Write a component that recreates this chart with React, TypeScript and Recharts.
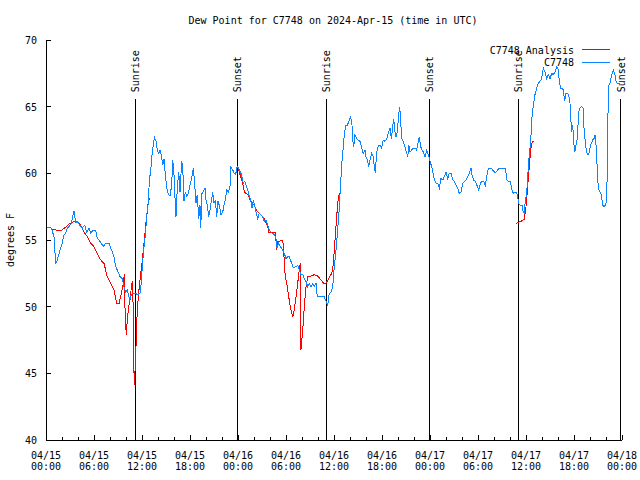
import { LineChart, Line, XAxis, YAxis, ReferenceLine } from "recharts"

const FONT = "'DejaVu Sans Mono', monospace"
const RED = "#ff0000"
const BLUE = "#0a84ff"

// hours after 2024-04-15 00:00 UTC, dew point (F)
const observed: [number, number][] = [
  [0, 55.9], [0.25, 55.95], [0.66, 55.9], [1.0, 55.25], [1.21, 53.2], [1.41, 53.5], [1.75, 54.25], [2.04, 54.8],
  [2.25, 55.4], [2.46, 55.5], [2.66, 55.9], [2.87, 56.0], [3.16, 56.25], [3.5, 57.2], [3.71, 56.3], [3.91, 56.4],
  [4.25, 56.1], [4.54, 55.9], [4.84, 56.1], [5.09, 55.6], [5.37, 55.9], [5.59, 55.5], [5.91, 55.75], [6.21, 55.75],
  [6.41, 55.1], [6.62, 55.0], [6.91, 54.75], [7.16, 54.5], [7.46, 54.75], [7.87, 54.75], [8.09, 54.4], [8.29, 54.1],
  [8.5, 53.75], [8.71, 53.0], [8.91, 52.75], [9.25, 52.25], [9.54, 52.1], [9.75, 51.5], [9.96, 51.1], [10.16, 51.25],
  [10.46, 50.5], [10.66, 50.9], [10.91, 51.0], [11.21, 51.0], [11.41, 50.9], [11.75, 51.0], [11.91, 51.75], [12.04, 53.0],
  [12.25, 54.5], [12.46, 55.6], [12.59, 56.9], [12.79, 57.75], [12.91, 59.4], [13.12, 60.4], [13.25, 61.4], [13.41, 62.1],
  [13.54, 62.7], [13.75, 62.4], [13.91, 61.75], [14.09, 61.5], [14.25, 61.75], [14.41, 61.4], [14.59, 60.6], [14.75, 61.1],
  [14.91, 59.9], [15.09, 58.9], [15.29, 58.4], [15.5, 58.3], [15.71, 59.1], [15.84, 61.0], [16.0, 59.9], [16.12, 58.25],
  [16.25, 56.75], [16.41, 58.9], [16.59, 60.1], [16.75, 58.6], [16.96, 60.9], [17.09, 60.5], [17.25, 57.9], [17.41, 58.6],
  [17.59, 58.3], [17.79, 58.5], [18.0, 59.1], [18.21, 59.6], [18.41, 60.4], [18.54, 59.6], [18.75, 57.75], [18.91, 58.4],
  [19.09, 56.6], [19.25, 57.6], [19.34, 55.9], [19.5, 58.5], [19.66, 58.6], [19.87, 58.9], [20.0, 58.0], [20.16, 57.6],
  [20.34, 56.75], [20.5, 57.25], [20.66, 57.9], [20.84, 58.6], [21.0, 57.75], [21.16, 58.0], [21.34, 56.75], [21.5, 57.9],
  [21.66, 57.6], [21.87, 56.9], [22.09, 57.1], [22.25, 57.6], [22.41, 58.0], [22.59, 58.75], [22.79, 58.6], [23.0, 59.0],
  [23.12, 60.5], [23.34, 60.25], [23.54, 60.0], [23.71, 59.9], [23.84, 60.4], [24.0, 60.5], [24.16, 60.25], [24.37, 60.0],
  [24.54, 59.6], [24.66, 59.25], [24.84, 59.4], [25.0, 59.1], [25.21, 58.75], [25.41, 58.25], [25.59, 58.0], [25.75, 57.4],
  [25.91, 58.0], [26.09, 57.6], [26.25, 57.1], [26.46, 56.6], [26.66, 57.0], [26.87, 56.9], [27.09, 56.75], [27.29, 56.4],
  [27.5, 56.5], [27.71, 56.1], [27.91, 55.75], [28.12, 55.6], [28.34, 55.5], [28.54, 55.4], [28.75, 55.1], [28.87, 54.4],
  [29.09, 54.75], [29.29, 54.5], [29.59, 54.25], [29.79, 54.0], [30.0, 53.6], [30.21, 53.75], [30.41, 53.75], [30.62, 53.4],
  [30.91, 52.9], [31.25, 53.0], [31.46, 53.1], [31.66, 52.75], [31.87, 52.4], [32.09, 52.4], [32.29, 52.1], [32.5, 51.9],
  [32.71, 51.5], [32.91, 51.75], [33.12, 51.5], [33.34, 51.75], [33.54, 51.5], [33.75, 51.75], [33.91, 50.75], [34.37, 50.75],
  [34.79, 50.75], [35.0, 50.4], [35.21, 50.1], [35.41, 51.0], [35.62, 51.1], [35.84, 51.5], [36.04, 53.0], [36.25, 54.25],
  [36.46, 55.75], [36.66, 57.4], [36.75, 58.4], [36.96, 60.6], [37.16, 62.0], [37.29, 62.9], [37.46, 63.6], [37.66, 63.6],
  [37.87, 63.9], [38.09, 64.25], [38.25, 63.6], [38.34, 62.5], [38.46, 62.0], [38.62, 62.9], [38.84, 62.6], [39.04, 62.5],
  [39.25, 62.4], [39.46, 61.9], [39.66, 61.5], [39.87, 61.75], [40.0, 61.25], [40.16, 61.0], [40.34, 60.5], [40.5, 61.0],
  [40.71, 61.5], [40.91, 61.25], [41.04, 60.5], [41.16, 60.0], [41.34, 61.6], [41.54, 62.1], [41.75, 62.1], [41.96, 61.9],
  [42.16, 62.5], [42.37, 62.4], [42.59, 62.6], [42.79, 63.0], [43.0, 63.4], [43.16, 62.6], [43.34, 63.5], [43.46, 64.1],
  [43.62, 63.1], [43.75, 62.75], [43.91, 63.1], [44.09, 64.4], [44.21, 65.0], [44.34, 63.9], [44.46, 62.6], [44.66, 62.4],
  [44.87, 62.0], [45.09, 61.5], [45.21, 61.25], [45.37, 62.1], [45.5, 61.6], [45.71, 61.75], [45.91, 61.9], [46.12, 61.9],
  [46.34, 61.75], [46.54, 62.4], [46.66, 62.75], [46.84, 62.0], [47.0, 61.75], [47.16, 61.6], [47.37, 61.25], [47.59, 61.75],
  [47.79, 61.4], [48.0, 60.9], [48.21, 60.5], [48.41, 59.9], [48.54, 59.5], [48.75, 59.25], [48.96, 59.25], [49.16, 58.9],
  [49.37, 59.6], [49.59, 59.5], [49.79, 59.75], [50.0, 60.1], [50.21, 59.6], [50.41, 60.0], [50.62, 60.0], [50.84, 59.5],
  [51.04, 59.4], [51.25, 59.1], [51.46, 58.9], [51.66, 58.5], [51.87, 58.6], [52.09, 59.25], [52.29, 59.4], [52.5, 59.5],
  [52.71, 59.75], [52.91, 60.0], [53.12, 60.4], [53.25, 59.9], [53.46, 59.5], [53.66, 59.4], [53.87, 59.1], [54.09, 58.75],
  [54.29, 59.25], [54.5, 59.4], [54.71, 59.4], [54.91, 59.1], [55.09, 59.75], [55.25, 60.25], [55.41, 60.4], [55.62, 60.4],
  [55.84, 60.25], [56.04, 60.1], [56.25, 60.1], [56.46, 60.25], [56.66, 60.4], [57.09, 60.4], [57.37, 60.4], [57.5, 60.0],
  [57.62, 59.5], [57.84, 59.4], [58.04, 59.4], [58.25, 58.75], [58.41, 58.5], [58.59, 58.6], [58.75, 58.6], [58.91, 58.4],
  [59.09, 57.75], [59.29, 57.6], [59.5, 57.6], [59.66, 57.1], [59.79, 57.0], [59.91, 58.0], [60.09, 58.4], [60.16, 59.4],
  [60.29, 60.4], [60.41, 61.4], [60.59, 62.4], [60.71, 64.0], [60.91, 65.1], [61.12, 65.9], [61.34, 66.4], [61.54, 66.75],
  [61.75, 66.9], [61.96, 67.1], [62.16, 67.9], [62.37, 67.6], [62.59, 67.1], [62.79, 67.4], [63.0, 67.1], [63.21, 67.5],
  [63.41, 67.4], [63.62, 67.6], [63.84, 68.0], [64.04, 67.75], [64.16, 66.9], [64.34, 66.4], [64.5, 66.4], [64.66, 66.25],
  [64.84, 65.4], [64.96, 66.0], [65.16, 66.0], [65.34, 65.9], [65.5, 65.25], [65.62, 63.9], [65.71, 63.1], [65.84, 63.6],
  [65.96, 62.4], [66.09, 61.6], [66.25, 62.1], [66.41, 62.6], [66.59, 64.6], [66.75, 64.9], [66.96, 65.0], [67.16, 64.9],
  [67.25, 63.4], [67.37, 62.6], [67.5, 61.9], [67.66, 61.4], [67.84, 61.4], [68.0, 61.9], [68.16, 62.25], [68.34, 62.5],
  [68.5, 62.6], [68.66, 62.9], [68.75, 62.1], [68.84, 61.4], [68.91, 60.1], [69.04, 58.9], [69.25, 58.6], [69.41, 58.4],
  [69.59, 57.6], [69.75, 57.5], [69.91, 57.6], [70.09, 58.0], [70.21, 62.4], [70.29, 66.5], [70.5, 66.75], [70.71, 67.4],
  [70.91, 67.75], [71.12, 67.4], [71.25, 66.9], [71.41, 66.75], [71.62, 66.75], [71.75, 66.6],
]

// analysis series, null marks a gap
const analysis: [number, number | null][] = [
  [0.79, 55.8], [1.21, 55.75], [1.84, 55.7], [2.34, 55.9], [2.87, 56.2], [3.5, 56.4], [3.91, 56.4], [4.34, 56.1],
  [4.75, 55.6], [5.16, 55.25], [5.59, 54.75], [6.0, 54.5], [6.41, 54.0], [6.84, 53.5], [7.25, 53.25], [7.66, 52.25],
  [8.09, 51.75], [8.5, 51.25], [8.84, 50.25], [9.12, 50.2], [9.41, 51.0], [9.66, 51.75], [9.79, 52.45], [9.91, 49.0],
  [10.04, 47.9], [10.16, 49.0], [10.34, 50.0], [10.5, 50.5], [10.66, 51.4], [10.79, 51.9], [10.91, 49.75], [10.96, 46.1],
  [11.04, 44.1], [11.21, 46.25], [11.29, 47.75], [11.41, 49.75], [11.62, 51.25], [11.84, 52.5], [11.96, 53.0], [12.16, 54.25],
  [12.34, 55.25], [12.46, 56.1], [12.66, 57.1], [12.79, 57.9], [13.0, 58.1],
  [18.0, null],
  [24.0, 60.4], [24.59, 59.25], [24.79, 58.6], [25.21, 58.4], [25.62, 57.9], [26.04, 57.6], [26.46, 57.1], [26.87, 56.9],
  [27.29, 56.6], [27.71, 56.0], [27.84, 55.6], [28.66, 55.6], [28.84, 54.25], [28.96, 54.9], [29.16, 54.9], [29.59, 55.0],
  [29.71, 54.25], [29.79, 53.25], [29.91, 52.25], [30.09, 51.75], [30.34, 50.75], [30.54, 50.0], [30.84, 49.25], [31.04, 49.75],
  [31.25, 50.75], [31.46, 51.75], [31.66, 52.75], [31.79, 53.25], [31.87, 46.75], [32.09, 48.25], [32.29, 50.0], [32.5, 51.5],
  [32.71, 52.25], [33.12, 52.3], [33.54, 52.4], [33.96, 52.3], [34.37, 52.0], [34.79, 51.7], [35.0, 51.75], [35.34, 52.1],
  [35.62, 52.4], [35.84, 52.75], [36.04, 54.25], [36.25, 56.0], [36.46, 57.75], [36.66, 58.5],
  [48.0, null],
  [58.75, 56.25], [59.37, 56.4], [59.79, 56.55], [60.0, 57.5], [60.21, 59.0], [60.41, 60.5], [60.59, 61.8], [60.79, 62.4],
  [60.94, 62.4],
]

const sunHours = [11.18, 23.9, 35.03, 47.92, 59.02, 71.85]
const sunNames = ["Sunrise", "Sunset", "Sunrise", "Sunset", "Sunrise", "Sunset"]

const xTicks = [0, 2, 4, 6, 8, 10, 12, 14, 16, 18, 20, 22, 24, 26, 28, 30, 32, 34, 36, 38, 40, 42, 44, 46, 48, 50, 52, 54, 56, 58, 60, 62, 64, 66, 68, 70, 72]
const dayLabels = ["04/15", "04/15", "04/15", "04/15", "04/16", "04/16", "04/16", "04/16", "04/17", "04/17", "04/17", "04/17", "04/18"]
const timeLabels = ["00:00", "06:00", "12:00", "18:00", "00:00", "06:00", "12:00", "18:00", "00:00", "06:00", "12:00", "18:00", "00:00"]
const yTicks = [40, 45, 50, 55, 60, 65, 70]

const obsData = observed.map(([h, v]) => ({ h, v }))
const anaData = analysis.map(([h, v]) => ({ h, v }))

const txt = { fontFamily: FONT, fontSize: 10, fill: "#000" }

function BottomTick(props: any) {
  const { x, y, payload } = props
  const h = payload.value
  const major = h % 6 === 0
  const i = h / 6
  return (
    <g>
      <line x1={x} x2={x} y1={y} y2={y - (major ? 5 : 3)} stroke="#000" shapeRendering="crispEdges" />
      {major && (
        <>
          <text x={x} y={y + 19} textAnchor="middle" {...txt}>{dayLabels[i]}</text>
          <text x={x} y={y + 30} textAnchor="middle" {...txt}>{timeLabels[i]}</text>
        </>
      )}
    </g>
  )
}

function TopTick(props: any) {
  const { x, y, payload } = props
  const major = payload.value % 6 === 0
  return <line x1={x} x2={x} y1={y} y2={y + (major ? 5 : 3)} stroke="#000" shapeRendering="crispEdges" />
}

function LeftTick(props: any) {
  const { x, y, payload } = props
  return (
    <g>
      <line x1={x} x2={x + 5} y1={y} y2={y} stroke="#000" shapeRendering="crispEdges" />
      <text x={x - 9} y={y + 4} textAnchor="end" {...txt}>{payload.value}</text>
    </g>
  )
}

function RightTick(props: any) {
  const { x, y } = props
  return <line x1={x} x2={x - 5} y1={y} y2={y} stroke="#000" shapeRendering="crispEdges" />
}

function sunLabel(name: string) {
  return (props: any) => {
    const vb = props.viewBox || {}
    const x = vb.x ?? vb.x1 ?? 0
    const y = vb.y ?? Math.min(vb.y1 ?? 0, vb.y2 ?? 0)
    return (
      <text transform={`translate(${x + 4},${y - 7}) rotate(-90)`} textAnchor="start" {...txt}>
        {name}
      </text>
    )
  }
}

export default function App() {
  return (
    <div style={{ position: "absolute", left: 0, top: 0, width: 640, height: 480, background: "#fff" }}>
      <LineChart width={640} height={480} margin={{ top: 40, right: 18, bottom: 0, left: 0 }}>
        <XAxis
          dataKey="h"
          type="number"
          domain={[0, 72]}
          ticks={xTicks}
          interval={0}
          allowDataOverflow
          height={40}
          tickSize={0}
          tickMargin={0}
          tick={<BottomTick />}
          axisLine={{ stroke: "#000", shapeRendering: "crispEdges" }}
        />
        <XAxis
          xAxisId="top"
          orientation="top"
          dataKey="h"
          type="number"
          domain={[0, 72]}
          ticks={xTicks}
          interval={0}
          height={0}
          tickSize={0}
          tickMargin={0}
          tick={<TopTick />}
          axisLine={{ stroke: "#000", shapeRendering: "crispEdges" }}
        />
        <YAxis
          type="number"
          domain={[40, 70]}
          ticks={yTicks}
          interval={0}
          allowDataOverflow
          width={46}
          tickSize={0}
          tickMargin={0}
          tick={<LeftTick />}
          axisLine={{ stroke: "#000", shapeRendering: "crispEdges" }}
        />
        <YAxis
          yAxisId="right"
          orientation="right"
          type="number"
          domain={[40, 70]}
          ticks={yTicks}
          interval={0}
          width={0}
          tickSize={0}
          tickMargin={0}
          tick={<RightTick />}
          axisLine={{ stroke: "#000", shapeRendering: "crispEdges" }}
        />
        {sunHours.map((h, i) => (
          <ReferenceLine
            key={i}
            segment={[{ x: h, y: 40 }, { x: h, y: 65.55 }]}
            stroke="#000"
            strokeWidth={1}
            shapeRendering="crispEdges"
            ifOverflow="visible"
            label={sunLabel(sunNames[i])}
          />
        ))}
        <Line
          data={anaData}
          dataKey="v"
          stroke={RED}
          strokeWidth={1}
          dot={false}
          activeDot={false}
          type="linear"
          shapeRendering="crispEdges"
          isAnimationActive={false}
        />
        <Line
          data={obsData}
          dataKey="v"
          stroke={BLUE}
          strokeWidth={1}
          dot={false}
          activeDot={false}
          type="linear"
          shapeRendering="crispEdges"
          isAnimationActive={false}
        />
      </LineChart>
      <svg width={640} height={480} style={{ position: "absolute", left: 0, top: 0, pointerEvents: "none" }}>
        <text x={333} y={24} textAnchor="middle" {...txt}>Dew Point for C7748 on 2024-Apr-15 (time in UTC)</text>
        <text transform="translate(14,240) rotate(-90)" textAnchor="middle" {...txt}>degrees F</text>
        <text x={574} y={54} textAnchor="end" {...txt}>C7748 Analysis</text>
        <line x1={582} x2={610} y1={49.5} y2={49.5} stroke={RED} />
        <text x={574} y={66} textAnchor="end" {...txt}>C7748</text>
        <line x1={582} x2={610} y1={62.5} y2={62.5} stroke={BLUE} />
      </svg>
    </div>
  )
}
